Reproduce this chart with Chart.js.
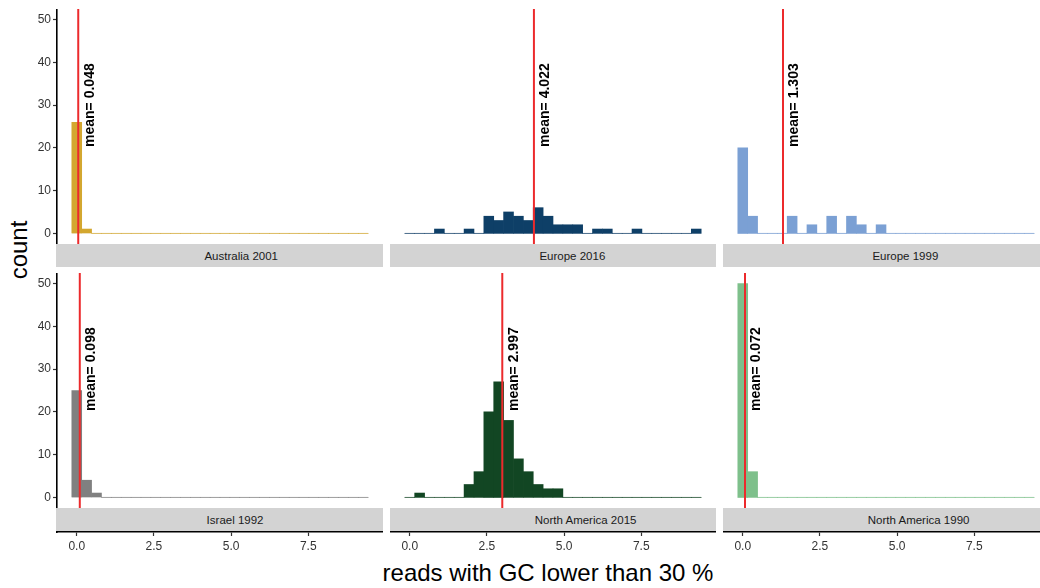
<!DOCTYPE html>
<html>
<head>
<meta charset="utf-8">
<script src="https://cdn.jsdelivr.net/npm/chart.js@4.4.1/dist/chart.umd.min.js"></script>
<style>
  html, body { margin: 0; padding: 0; background: #fff; }
  body { width: 1040px; height: 588px; position: relative; overflow: hidden;
         font-family: "Liberation Sans", Arial, Helvetica, sans-serif; }
  .panel { position: absolute; }
  .strip { position: absolute; background: #D3D3D3; }
  .strip span { position: absolute; top: 50%; left: 158px; font-size: 11.5px; color: #1a1a1a;
                white-space: nowrap; transform: translate(-13%, -50%); }
  .title { position: absolute; color: #000; font-size: 24px; white-space: nowrap; }
</style>
</head>
<body>
<div class="title" style="left:19px;top:250px;transform:translate(-50%,-50%) rotate(-90deg);">count</div>
<div class="title" style="left:548px;top:573px;transform:translate(-50%,-50%);">reads with GC lower than 30 %</div>
<script>
// Facet histograms of low-GC reads with mean lines

const facets = ['Australia 2001', 'Europe 2016', 'Europe 1999', 'Israel 1992', 'North America 2015', 'North America 1990'];
const barColors = ['#D3A72F', '#0E3F67', '#7BA0D4', '#808080', '#124623', '#7EC08B'];
const baseColors = ['#F2EAD6', '#D2D8DF', '#DEE5F1', '#E3E3E3', '#D0D8D2', '#E0F0E3'];
const means = [0.048, 4.022, 1.303, 0.098, 2.997, 0.072];

// histogram bin centers (30 bins)
const binWidth = 0.32;
const binCenters = [0.00, 0.32, 0.64, 0.96, 1.28, 1.60, 1.92, 2.24, 2.56, 2.88,
                    3.20, 3.52, 3.84, 4.16, 4.48, 4.80, 5.12, 5.44, 5.76, 6.08,
                    6.40, 6.72, 7.04, 7.36, 7.68, 8.00, 8.32, 8.64, 8.96, 9.28];
const xTicks = [0, 2.5, 5, 7.5];
const yTicks = [0, 10, 20, 30, 40, 50];

const countsAustralia2001 = [26, 1, 0, 0, 0, 0, 0, 0, 0, 0, 0, 0, 0, 0, 0, 0, 0, 0, 0, 0, 0, 0, 0, 0, 0, 0, 0, 0, 0, 0];
const countsEurope2016 = [0, 0, 0, 1, 0, 0, 1, 0, 4, 3, 5, 4, 3, 6, 4, 2, 2, 2, 0, 1, 1, 0, 0, 1, 0, 0, 0, 0, 0, 1];
const countsEurope1999 = [20, 4, 0, 0, 0, 4, 0, 2, 0, 4, 0, 4, 2, 0, 2, 0, 0, 0, 0, 0, 0, 0, 0, 0, 0, 0, 0, 0, 0, 0];
const countsIsrael1992 = [25, 4, 1, 0, 0, 0, 0, 0, 0, 0, 0, 0, 0, 0, 0, 0, 0, 0, 0, 0, 0, 0, 0, 0, 0, 0, 0, 0, 0, 0];
const countsNorthAmerica2015 = [0, 1, 0, 0, 0, 0, 3, 6, 20, 27, 18, 9, 6, 3, 2, 2, 0, 0, 0, 0, 0, 0, 0, 0, 0, 0, 0, 0, 0, 0];
const countsNorthAmerica1990 = [50, 6, 0, 0, 0, 0, 0, 0, 0, 0, 0, 0, 0, 0, 0, 0, 0, 0, 0, 0, 0, 0, 0, 0, 0, 0, 0, 0, 0, 0];

const allCounts = [countsAustralia2001, countsEurope2016, countsEurope1999,
                   countsIsrael1992, countsNorthAmerica2015, countsNorthAmerica1990];

// layout (px)
const colLeft = [57, 390, 723];
const panelW = 326;
const rowTop = [9, 273];
const plotH = 235;
const stripGap = 24;
const axisH = 26;
const FONT = '"Liberation Sans", Arial, Helvetica, sans-serif';

// ggplot-like ranges
const yLo = -2.5, yHi = 52.5;
const pxPerUnit = plotH / (yHi - yLo);
const binLo = binCenters[0] - binWidth / 2;
const binHi = binCenters[binCenters.length - 1] + binWidth / 2;
const xPad = (binHi - binLo) * 0.05;

// rotated "mean= x" text next to the red line
const meanLabel = {
    id: 'meanLabel',
    afterDatasetsDraw(chart, args, opts) {
        const { ctx, scales } = chart;
        const px = scales.x.getPixelForValue(opts.value + opts.nudge);
        const py = scales.y.getPixelForValue(opts.yPos);
        ctx.save();
        ctx.translate(px, py);
        ctx.rotate(-Math.PI / 2);
        ctx.font = 'bold 14px ' + FONT;
        ctx.fillStyle = '#000';
        ctx.textAlign = 'center';
        ctx.textBaseline = 'middle';
        ctx.fillText(opts.text, 0, 0);
        ctx.restore();
    }
};

function makePanel(i) {
    const row = Math.floor(i / 3);
    const col = i % 3;
    const leftAxis = col === 0;
    const bottomAxis = row === 1;

    const left = leftAxis ? 0 : colLeft[col];
    const width = leftAxis ? colLeft[0] + panelW : panelW;
    const height = bottomAxis ? plotH + stripGap + axisH : plotH;

    const div = document.createElement('div');
    div.className = 'panel';
    div.style.left = left + 'px';
    div.style.top = rowTop[row] + 'px';
    const canvas = document.createElement('canvas');
    canvas.width = width;
    canvas.height = height;
    div.appendChild(canvas);
    document.body.appendChild(div);

    const yMin = bottomAxis ? yLo - stripGap / pxPerUnit : yLo;

    new Chart(canvas, {
        type: 'bar',
        data: {
            datasets: [
                {
                    type: 'line',
                    data: [{ x: means[i], y: yLo }, { x: means[i], y: yHi }],
                    borderColor: '#EC2A2C',
                    borderWidth: 2,
                    pointRadius: 0,
                    order: 0
                },
                {
                    type: 'bar',
                    data: binCenters.map((c, k) => ({ x: c, y: allCounts[i][k] })),
                    backgroundColor: barColors[i],
                    borderWidth: 0,
                    barPercentage: 1,
                    categoryPercentage: 1,
                    order: 1
                },
                {
                    type: 'line',
                    data: [{ x: binLo, y: 0 }, { x: binHi, y: 0 }],
                    borderColor: baseColors[i],
                    borderWidth: 1.2,
                    pointRadius: 0,
                    order: 2
                }
            ]
        },
        options: {
            responsive: false,
            animation: false,
            layout: { padding: 0 },
            plugins: {
                legend: { display: false },
                tooltip: { enabled: false },
                meanLabel: { value: means[i], text: 'mean= ' + means[i], nudge: 0.37, yPos: 30 }
            },
            scales: {
                x: {
                    type: 'linear',
                    display: bottomAxis,
                    offset: false,
                    min: binLo - xPad,
                    max: binHi + xPad,
                    border: { display: true, color: '#000', width: 1.6 },
                    grid: { offset: false, drawOnChartArea: false, drawTicks: true, tickLength: 4, tickColor: '#333', tickWidth: 1.2 },
                    ticks: { color: '#333', font: { size: 12, family: FONT }, padding: 3, maxRotation: 0,
                             callback: v => Number(v).toFixed(1) },
                    afterBuildTicks: s => { s.ticks = xTicks.map(v => ({ value: v })); },
                    afterFit: s => {
                        s.height = bottomAxis ? axisH : 0;
                        s.paddingLeft = 0;
                        s.paddingRight = 0;
                    }
                },
                y: {
                    type: 'linear',
                    display: leftAxis,
                    min: yMin,
                    max: yHi,
                    border: { display: true, color: '#000', width: 1.6 },
                    grid: { drawOnChartArea: false, drawTicks: true, tickLength: 4, tickColor: '#333', tickWidth: 1.2 },
                    ticks: { color: '#333', font: { size: 12, family: FONT }, padding: 2 },
                    afterBuildTicks: s => { s.ticks = yTicks.map(v => ({ value: v })); },
                    afterFit: s => {
                        s.width = leftAxis ? colLeft[0] : 0;
                        s.paddingTop = 0;
                        s.paddingBottom = 0;
                    }
                }
            }
        },
        plugins: [meanLabel]
    });

    // facet strip
    const strip = document.createElement('div');
    strip.className = 'strip';
    const sLeft = leftAxis ? colLeft[0] - 1 : colLeft[col];
    strip.style.left = sLeft + 'px';
    strip.style.width = (panelW + colLeft[col] - sLeft) + 'px';
    strip.style.top = (rowTop[row] + plotH) + 'px';
    strip.style.height = (stripGap - 1) + 'px';
    const span = document.createElement('span');
    span.textContent = facets[i];
    strip.appendChild(span);
    document.body.appendChild(strip);
}

facets.forEach((f, i) => makePanel(i));
</script>
</body>
</html>
